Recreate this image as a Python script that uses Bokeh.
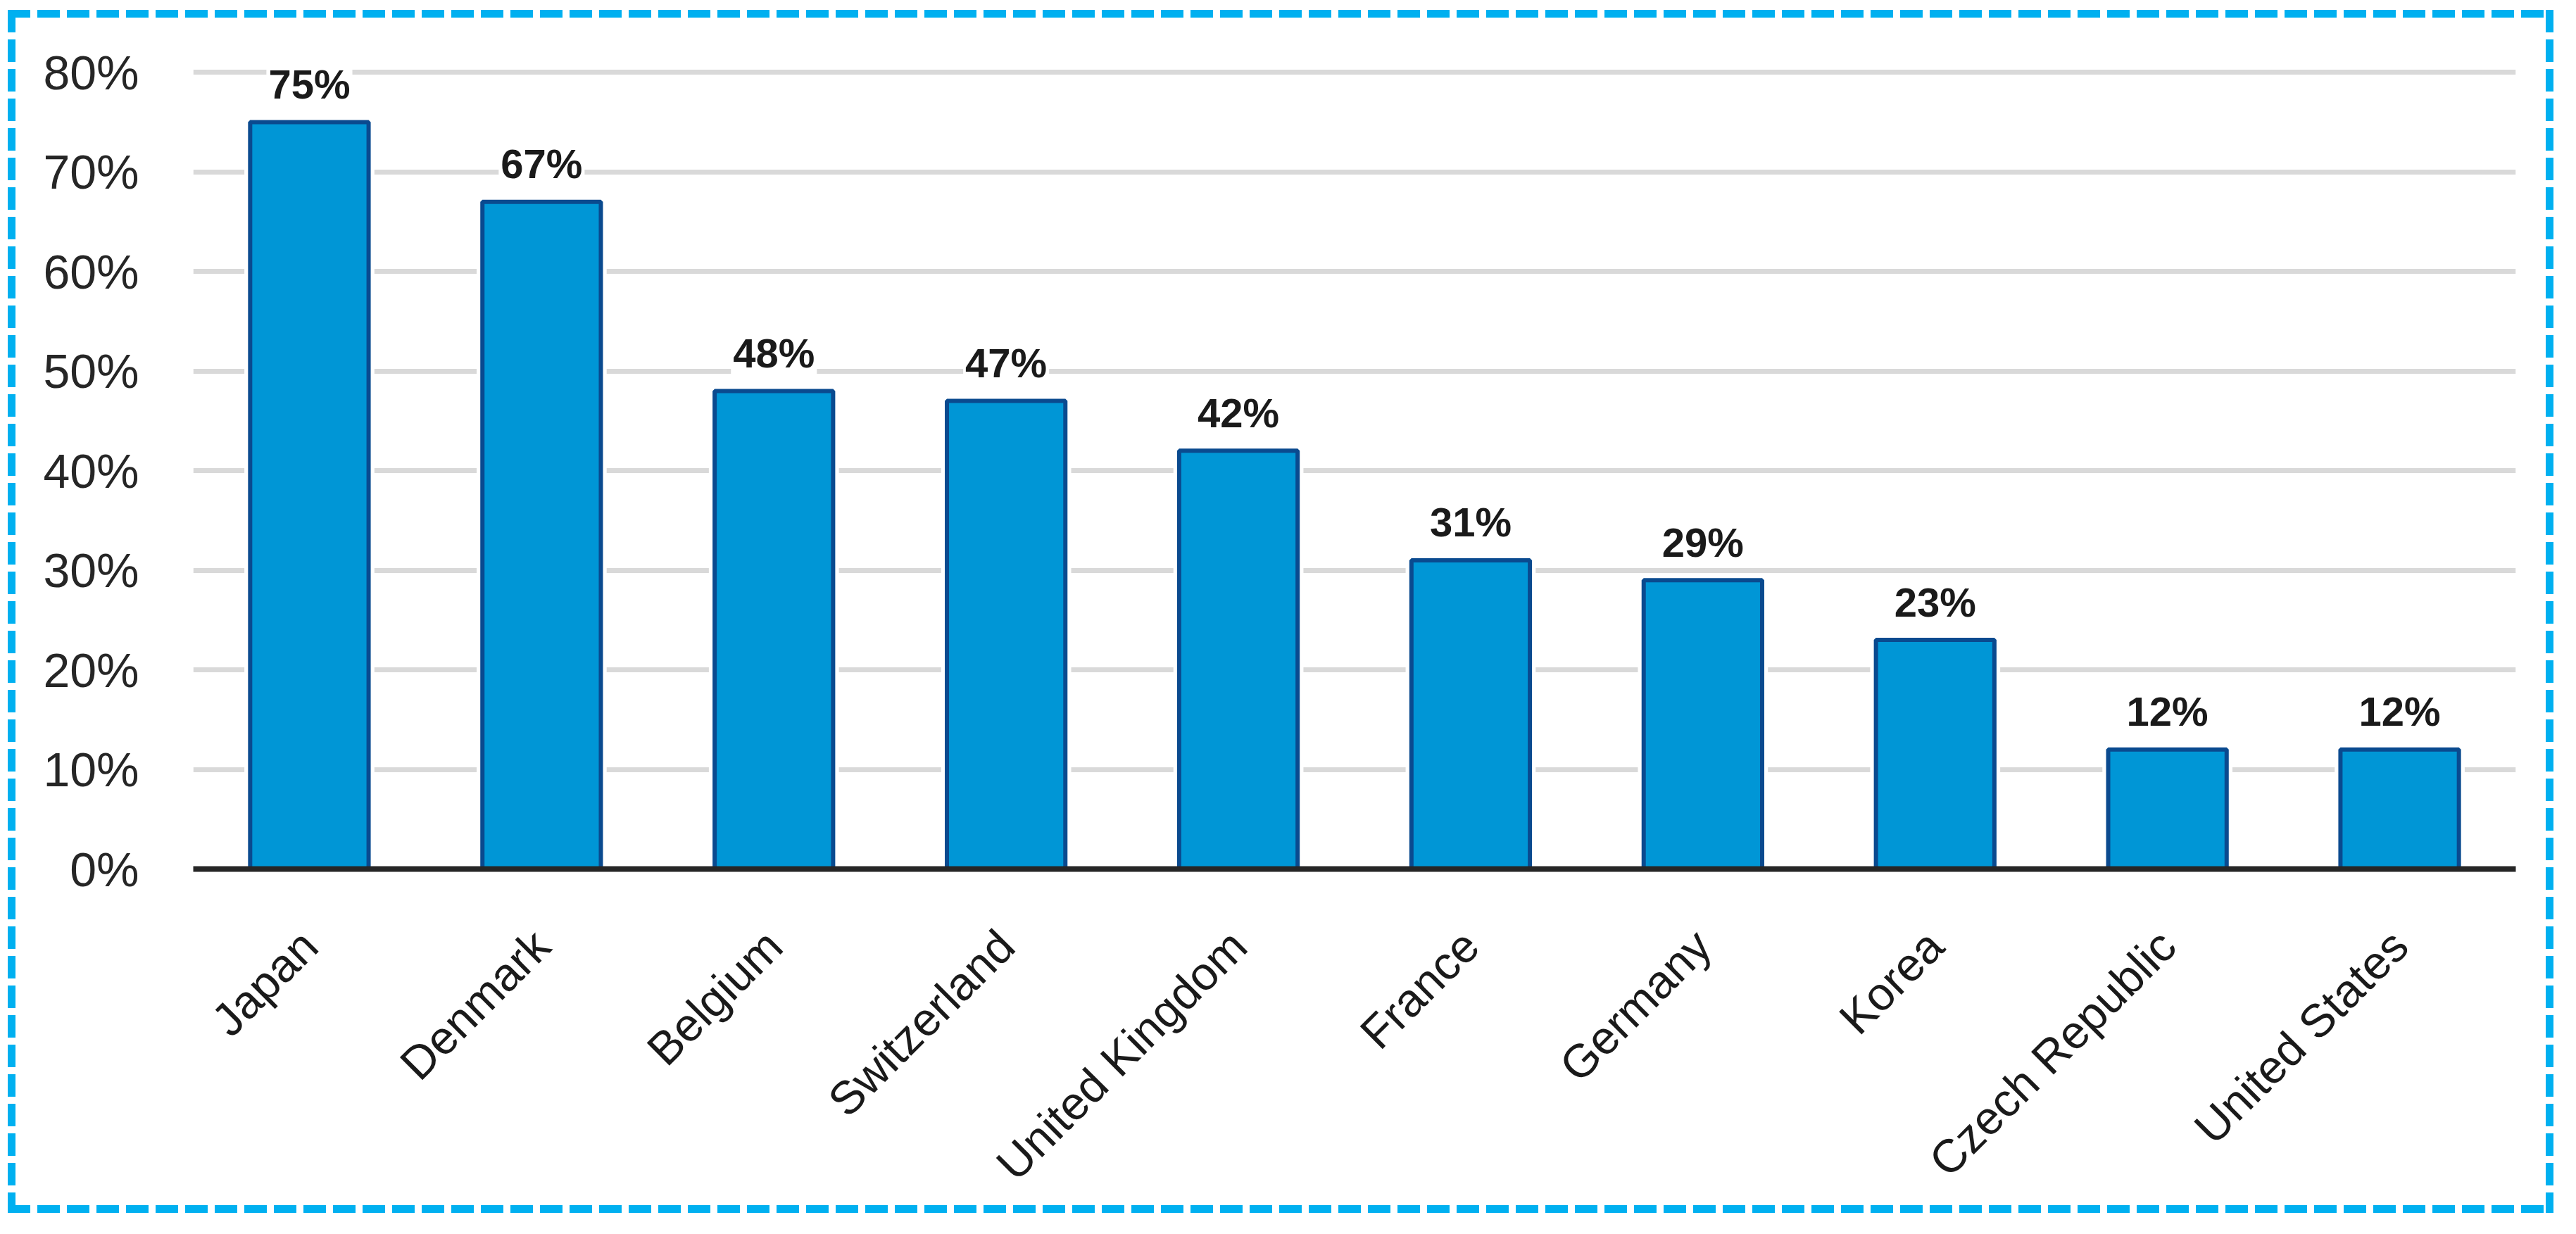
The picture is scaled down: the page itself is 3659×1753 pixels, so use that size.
import math
from bokeh.plotting import figure
from bokeh.models import (ColumnDataSource, FactorRange, Range1d, FixedTicker,
                          NumeralTickFormatter)
from bokeh.core.properties import value
from bokeh.embed import file_html
from bokeh.resources import INLINE

countries = ["Japan", "Denmark", "Belgium", "Switzerland", "United Kingdom",
             "France", "Germany", "Korea", "Czech Republic", "United States"]
shares = [0.75, 0.67, 0.48, 0.47, 0.42, 0.31, 0.29, 0.23, 0.12, 0.12]
tick_values = [0.0, 0.1, 0.2, 0.3, 0.4, 0.5, 0.6, 0.7, 0.8]
value_labels = [f"{round(v * 100)}%" for v in shares]

FONT = "'Liberation Sans', Arial, sans-serif"

W, H = 3642, 1736
p = figure(width=W, height=H, x_range=FactorRange(*countries, range_padding=0),
           y_range=Range1d(0, 0.803), output_backend="svg", toolbar_location=None,
           min_border_left=274, min_border_right=69, min_border_top=98,
           min_border_bottom=502)
p.outline_line_color = None
p.background_fill_color = "white"
p.border_fill_color = None

# dashed light-blue frame around the whole picture (CSS background behind
# the transparent canvas border area)
BLUE = "#00b0f0"
dash_h = f"repeating-linear-gradient(to right, {BLUE} 0px, {BLUE} 32px, transparent 32px, transparent 42px)"
dash_v = f"repeating-linear-gradient(to bottom, {BLUE} 0px, {BLUE} 32px, transparent 32px, transparent 42px)"
p.styles = {
    "background-color": "white",
    "background-image": ", ".join([dash_h, dash_h, dash_v, dash_v]),
    "background-position": "11px 14px, 11px 1712px, 11px 14px, 3616px 14px",
    "background-size": "3616px 11px, 3616px 11px, 11px 1709px, 11px 1709px",
    "background-repeat": "no-repeat",
}

# grid
p.xgrid.grid_line_color = None
p.ygrid.ticker = FixedTicker(ticks=tick_values)
p.ygrid.grid_line_color = "#d9d9d9"
p.ygrid.grid_line_width = 7

src = ColumnDataSource(dict(x=countries, top=shares, label=value_labels))

# white halo around bars (breaks gridlines like in the reference)
p.vbar(x="x", top="top", width=0.56, source=src, fill_color="white",
       line_color=None)
p.vbar(x="x", top="top", width=0.51, source=src, fill_color="#0096d6",
       line_color="#0a4a8f", line_width=6)

p.text(x="x", y="top", text="label", source=src, text_align="center",
       text_baseline="middle", y_offset=-54,
       text_font=value(FONT), text_font_style="bold",
       text_font_size="58px", text_color="#1a1a1a",
       background_fill_color="white", padding=3)

# axes
p.yaxis.ticker = FixedTicker(ticks=tick_values)
p.yaxis.formatter = NumeralTickFormatter(format="0%")
p.yaxis.axis_line_color = None
p.yaxis.major_tick_line_color = None
p.yaxis.minor_tick_line_color = None
p.yaxis.major_tick_out = 0
p.yaxis.major_label_standoff = 77
p.yaxis.major_label_text_font = FONT
p.yaxis.major_label_text_font_size = "68px"
p.yaxis.major_label_text_color = "#262626"

p.xaxis.axis_line_color = "#262626"
p.xaxis.axis_line_width = 8
p.xaxis.major_tick_line_color = None
p.xaxis.minor_tick_line_color = None
p.xaxis.major_tick_out = 0
p.xaxis.major_label_orientation = math.pi / 4
p.xaxis.major_label_standoff = 98
p.xaxis.major_label_text_font = FONT
p.xaxis.major_label_text_font_size = "66px"
p.xaxis.major_label_text_color = "#1a1a1a"

open("out.html", "w").write(file_html(p, INLINE))
